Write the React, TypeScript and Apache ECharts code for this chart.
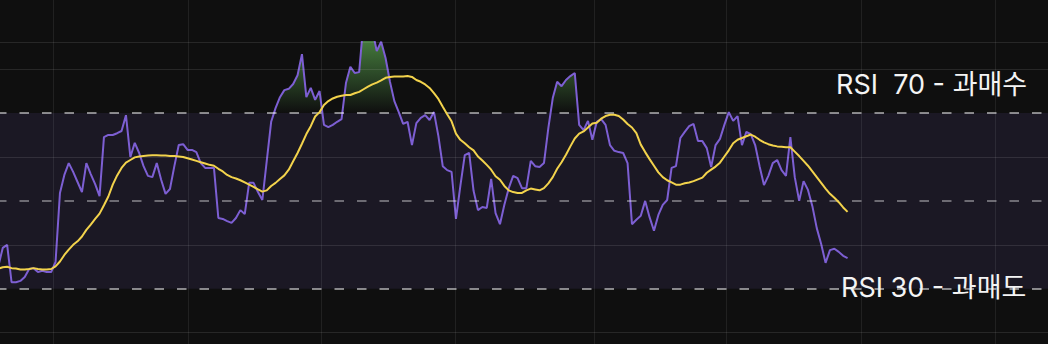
import React, { useEffect, useRef } from "react";
import * as echarts from "echarts";

// Daily RSI values (index = day)
const rsiValues = [
  35.2, 39.3, 40.0, 31.5, 31.5, 31.8, 32.7, 34.5, 34.7, 33.8,
  34.1, 33.8, 33.8, 36.1, 51.8, 55.9, 58.6, 56.6, 54.3, 52.0,
  58.6, 56.1, 53.8, 51.1, 64.5, 65.0, 65.0, 65.4, 65.9, 69.5,
  60.0, 63.2, 60.9, 57.9, 55.7, 55.4, 58.6, 54.8, 51.6, 52.7,
  57.9, 62.7, 62.9, 61.6, 61.6, 61.1, 58.6, 57.5, 57.5, 57.5,
  46.1, 45.9, 45.4, 45.0, 46.1, 47.9, 47.0, 54.1, 54.1, 52.0,
  50.2, 59.1, 68.0, 71.1, 73.6, 75.2, 75.5, 76.6, 78.6, 83.4,
  73.6, 75.7, 73.0, 75.0, 67.3, 66.8, 67.3, 68.0, 68.6, 76.8,
  80.5, 79.1, 79.3, 90.9, 92.0, 88.8, 84.1, 86.2, 82.5, 77.1,
  72.7, 70.2, 67.5, 68.0, 62.7, 67.7, 68.9, 69.5, 68.4, 70.2,
  64.8, 57.9, 57.0, 56.6, 45.9, 53.4, 60.4, 60.9, 52.3, 47.9,
  48.6, 48.4, 55.0, 47.2, 44.7, 49.1, 52.9, 55.7, 55.2, 52.9,
  52.9, 59.1, 57.9, 57.7, 58.6, 66.6, 73.4, 77.1, 76.1, 77.5,
  78.4, 79.1, 67.3, 66.1, 68.2, 63.9, 68.0, 68.6, 67.3, 62.7,
  61.4, 61.1, 60.9, 58.6, 44.7, 45.7, 46.6, 50.0, 46.3, 43.2,
  46.8, 49.1, 50.2, 57.5, 57.9, 64.3, 65.7, 67.0, 67.5, 63.6,
  63.6, 62.0, 57.7, 62.7, 64.1, 67.3, 70.2, 68.2, 69.3, 62.7,
  65.7, 65.2, 62.7, 57.9, 53.6, 55.7, 58.6, 59.3, 57.0, 55.7,
  64.5, 55.4, 50.0, 54.5, 52.5, 48.8, 43.8, 40.2, 35.9, 38.8,
  39.1, 38.4, 37.5, 37.0,
];

// Signal (moving average of RSI)
const signalValues = [
  34.6, 34.9, 35.0, 34.7, 34.6, 34.4, 34.4, 34.5, 34.7, 34.5,
  34.4, 34.4, 34.5, 35.1, 36.2, 37.7, 38.9, 40.0, 40.8, 41.9,
  43.4, 44.6, 45.9, 47.1, 49.0, 51.0, 53.7, 55.8, 57.5, 58.7,
  59.3, 59.9, 60.1, 60.2, 60.3, 60.4, 60.4, 60.3, 60.3, 60.2,
  60.2, 60.1, 60.0, 59.7, 59.4, 59.1, 58.8, 58.5, 58.2, 58.0,
  57.3, 56.7, 55.9, 55.4, 55.1, 54.7, 54.2, 53.7, 53.2, 52.6,
  52.1, 52.4, 53.4, 54.1, 55.0, 55.8, 57.1, 59.0, 60.9, 63.0,
  65.2, 67.0, 69.2, 70.2, 71.8, 72.7, 73.3, 73.7, 73.9, 74.1,
  74.1, 74.5, 74.8, 75.4, 76.0, 76.5, 76.9, 77.4, 78.0, 78.2,
  78.3, 78.3, 78.3, 78.4, 78.2, 77.5, 77.1, 76.5, 75.7, 74.5,
  73.2, 71.4, 69.7, 68.1, 65.3, 63.9, 63.1, 62.2, 61.5, 60.1,
  59.2, 58.2, 57.1, 55.6, 54.8, 53.4, 52.4, 52.0, 51.8, 51.8,
  52.4, 52.8, 52.6, 52.4, 52.9, 54.0, 55.4, 57.3, 58.8, 60.5,
  62.4, 64.2, 65.3, 65.8, 66.7, 67.6, 67.8, 68.7, 69.3, 69.6,
  69.6, 69.3, 68.5, 67.5, 66.7, 65.4, 62.8, 61.1, 59.5, 58.0,
  56.5, 55.4, 54.7, 54.2, 53.7, 53.7, 54.0, 54.2, 54.5, 54.9,
  55.3, 56.4, 57.1, 57.8, 58.7, 60.1, 61.5, 63.1, 63.9, 64.3,
  64.7, 65.1, 64.6, 63.9, 63.3, 62.9, 62.6, 62.4, 62.3, 62.2,
  62.2, 61.2, 60.2, 59.1, 58.0, 56.7, 55.4, 54.1, 52.8, 51.6,
  50.7, 49.7, 48.5, 47.5,
];

const solidLevels = [20, 40, 60, 80];
const dashedLevels = [70, 50, 30];
const monthGridDays = [12.4, 43.1, 73.3, 103.8, 135.4, 165.5, 196.1, 226.6];
const overbought = 70;
const oversold = 30;
const overboughtLabel = "RSI  70 - 과매수";
const oversoldLabel = "RSI 30 - 과매도";
const yRange = [17.44, 86.15];
const dayRange = [0.375, 238.55];

export default function App() {
  const ref = useRef<HTMLDivElement>(null);

  useEffect(() => {
    const chart = echarts.init(ref.current!, null, { renderer: "svg" });
    const rsiData = rsiValues.map((v, i) => [i, v]);
    const sigData = signalValues.map((v, i) => [i, v]);
    const font = "Inter, 'Noto Sans CJK KR', sans-serif";

    const areaGradient = new echarts.graphic.LinearGradient(
      0, 42, 0, 113,
      [
        { offset: 0, color: "rgba(82,150,72,0.78)" },
        { offset: 1, color: "rgba(82,150,72,0)" },
      ],
      true
    );

    chart.setOption({
      animation: false,
      backgroundColor: "#0f0f0f",
      grid: [
        { left: 0, right: 0, top: 42, bottom: 0 },
        { left: 0, right: 0, top: 0, bottom: 0 },
      ],
      xAxis: [
        { type: "value", gridIndex: 0, min: dayRange[0], max: dayRange[1], show: false },
        { type: "value", gridIndex: 1, min: dayRange[0], max: dayRange[1], show: false },
      ],
      yAxis: [
        { type: "value", gridIndex: 0, min: yRange[0], max: yRange[1], show: false },
        { type: "value", gridIndex: 1, min: 0, max: 1, show: false },
      ],
      graphic: [
        {
          type: "text",
          x: 836,
          y: 84,
          z: 100,
          style: {
            text: overboughtLabel,
            fill: "#f4f4f4",
            fontSize: 27,
            fontFamily: font,
            align: "left",
            verticalAlign: "middle",
          },
        },
        {
          type: "text",
          x: 841,
          y: 287,
          z: 100,
          style: {
            text: oversoldLabel,
            fill: "#f4f4f4",
            fontSize: 27,
            fontFamily: font,
            align: "left",
            verticalAlign: "middle",
          },
        },
      ],
      series: [
        {
          type: "line",
          data: [],
          xAxisIndex: 0,
          yAxisIndex: 0,
          z: 0,
          silent: true,
          markArea: {
            silent: true,
            itemStyle: { color: "#1b1824" },
            data: [[{ yAxis: oversold }, { yAxis: overbought }]],
          },
        },
        {
          type: "line",
          data: [],
          xAxisIndex: 1,
          yAxisIndex: 1,
          z: 1,
          silent: true,
          markLine: {
            silent: true,
            symbol: ["none", "none"],
            label: { show: false },
            lineStyle: { color: "rgba(255,255,255,0.08)", width: 1, type: "solid" },
            data: monthGridDays.map((d) => ({ xAxis: d })),
          },
        },
        {
          type: "line",
          data: [],
          xAxisIndex: 0,
          yAxisIndex: 0,
          z: 1,
          silent: true,
          markLine: {
            silent: true,
            symbol: ["none", "none"],
            label: { show: false },
            lineStyle: { color: "rgba(255,255,255,0.1)", width: 1, type: "solid" },
            data: [...solidLevels, yRange[1]].map((v) => ({ yAxis: v })),
          },
        },
        {
          type: "line",
          data: [],
          xAxisIndex: 0,
          yAxisIndex: 0,
          z: 2,
          silent: true,
          markLine: {
            silent: true,
            symbol: ["none", "none"],
            label: { show: false },
            data: dashedLevels.map((v) => ({
              yAxis: v,
              lineStyle: {
                color: v === 50 ? "rgba(255,255,255,0.36)" : "rgba(255,255,255,0.5)",
                width: 2,
                type: [9.5, 13],
                dashOffset: 2.5,
              },
            })),
          },
        },
        {
          name: "RSI",
          type: "line",
          data: rsiData,
          xAxisIndex: 0,
          yAxisIndex: 0,
          z: 4,
          symbol: "none",
          lineStyle: { color: "#7d5fd3", width: 2 },
          areaStyle: { origin: overbought, color: areaGradient, opacity: 1 },
        },
        {
          name: "Signal",
          type: "line",
          data: sigData,
          xAxisIndex: 0,
          yAxisIndex: 0,
          z: 5,
          symbol: "none",
          lineStyle: { color: "#f3d34c", width: 2 },
        },
      ],
    });

    return () => chart.dispose();
  }, []);

  return (
    <div
      ref={ref}
      style={{ position: "absolute", left: 0, top: 0, width: 1048, height: 344 }}
    />
  );
}
